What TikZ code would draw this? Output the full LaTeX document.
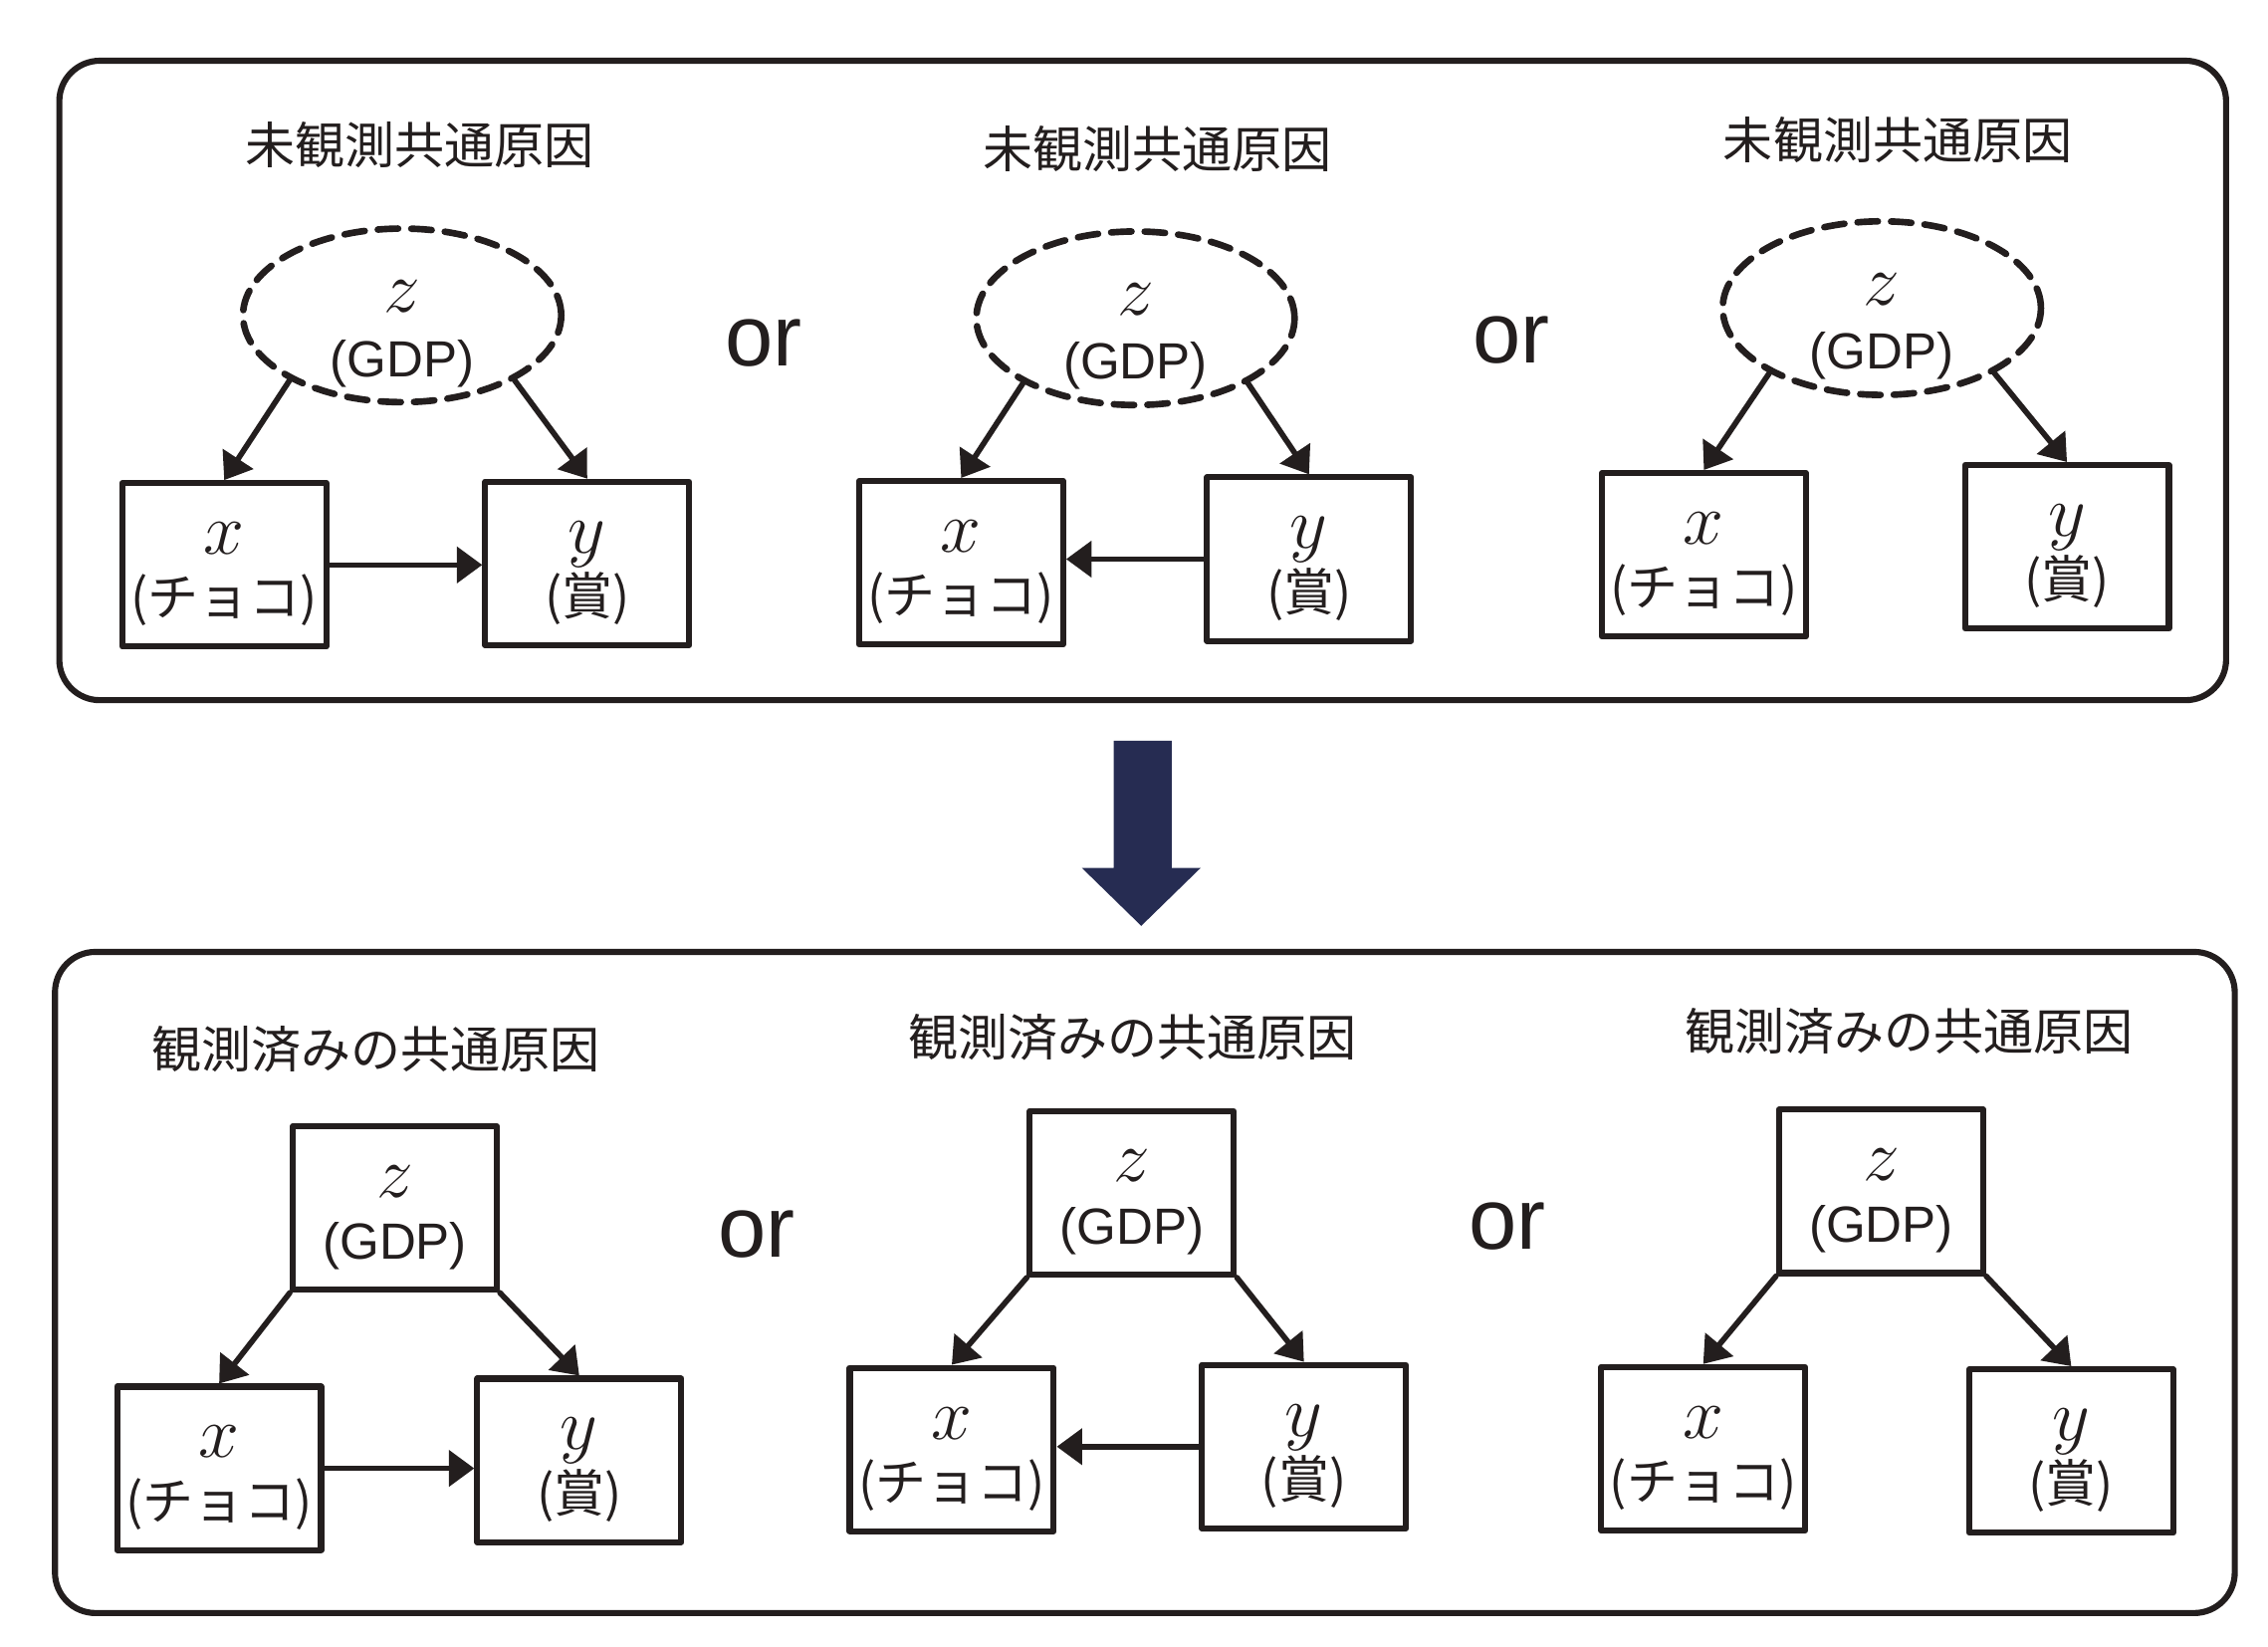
\documentclass[tikz,border=0pt]{standalone}
\usepackage{fontspec}
\setmainfont{Liberation Sans}
\newfontfamily\jp{Noto Sans CJK JP}
\usetikzlibrary{arrows.meta,positioning,shapes.geometric}
\definecolor{ink}{RGB}{35,30,30}
\definecolor{navy}{RGB}{38,44,82}
\newcommand{\varname}[1]{\rule{0pt}{10pt}{\fontsize{14}{12.2}\selectfont$#1$}}
\newcommand{\latname}[1]{\rule{0pt}{13.5pt}{\fontsize{14}{12.6}\selectfont$#1$}}
\newcommand{\choco}{{\jp\fontsize{10}{12.2}\selectfont(チョコ)}}
\newcommand{\prize}{{\jp\fontsize{10}{12.2}\selectfont(賞)}}
\tikzset{
  varbox/.style={rectangle,draw=ink,line width=1.2pt,minimum width=1.41cm,minimum height=1.13cm,
    align=center,inner sep=0pt,text=ink,font=\fontsize{10}{12.2}\selectfont},
  latent/.style={ellipse,draw=ink,line width=1.3pt,dash pattern=on 4pt off 2.6pt,minimum width=2.2cm,
    minimum height=1.2cm,align=center,inner xsep=0pt,inner ysep=-3pt,text=ink,
    font=\fontsize{10}{12.6}\selectfont},
  arr/.style={draw=ink,line width=1.1pt,-{Triangle[length=5pt,width=7pt]}},
  caption/.style={text=ink,font=\jp\fontsize{9.8}{12}\selectfont},
  ortext/.style={text=ink,font=\fontsize{17}{20}\selectfont},
  frame/.style={draw=ink,line width=1.2pt,rounded corners=0.28cm},
  every picture/.style={line cap=round,line join=round}
}
\begin{document}
\begin{tikzpicture}
  \useasboundingbox (0,0) rectangle (15.68,-11.38);
  \draw[frame] (0.41,-0.42) rectangle (15.39,-4.84);
  \draw[frame] (0.38,-6.58) rectangle (15.45,-11.15);
  % top row
  \node[caption] (t1) at (2.90,-1.00) {未観測共通原因};
  \node[caption] (t2) at (8.00,-1.03) {未観測共通原因};
  \node[caption] (t3) at (13.12,-0.97) {未観測共通原因};
  \node[latent] (z1) at (2.78,-2.18) {\latname{z}\\(GDP)};
  \node[latent] (z2) at (7.85,-2.20) {\latname{z}\\(GDP)};
  \node[latent] (z3) at (13.01,-2.13) {\latname{z}\\(GDP)};
  \node[varbox] (x1) at (1.55,-3.905) {\varname{x}\\\choco};
  \node[varbox] (y1) at (4.06,-3.895) {\varname{y}\\\prize};
  \node[varbox] (x2) at (6.645,-3.89) {\varname{x}\\\choco};
  \node[varbox] (y2) at (9.05,-3.865) {\varname{y}\\\prize};
  \node[varbox] (x3) at (11.78,-3.835) {\varname{x}\\\choco};
  \node[varbox] (y3) at (14.29,-3.78) {\varname{y}\\\prize};
  \node[ortext] (o1) at (5.28,-2.37) {or};
  \node[ortext] (o2) at (10.45,-2.35) {or};
  \draw[arr] (z1.-150) -- (x1.north);
  \draw[arr] (z1.-30) -- (y1.north);
  \draw[arr] (x1.east) -- (x1.east -| y1.west);
  \draw[arr] (z2.-150) -- (x2.north);
  \draw[arr] (z2.-30) -- (y2.north);
  \draw[arr] (y2.west) -- (y2.west -| x2.east);
  \draw[arr] (z3.-150) -- (x3.north);
  \draw[arr] (z3.-30) -- (y3.north);
  % big arrow
  \fill[navy] (7.70,-5.12) -- (8.10,-5.12) -- (8.10,-6.00) -- (8.30,-6.00) -- (7.89,-6.40)
    -- (7.48,-6.00) -- (7.70,-6.00) -- cycle;
  % bottom row
  \node[caption] (b1) at (2.60,-7.25) {観測済みの共通原因};
  \node[caption] (b2) at (7.83,-7.17) {観測済みの共通原因};
  \node[caption] (b3) at (13.20,-7.13) {観測済みの共通原因};
  \node[varbox] (z4) at (2.73,-8.35) {\varname{z}\\(GDP)};
  \node[varbox] (z5) at (7.825,-8.245) {\varname{z}\\(GDP)};
  \node[varbox] (z6) at (13.005,-8.235) {\varname{z}\\(GDP)};
  \node[varbox] (x4) at (1.515,-10.15) {\varname{x}\\\choco};
  \node[varbox] (y4) at (4.005,-10.095) {\varname{y}\\\prize};
  \node[varbox] (x5) at (6.58,-10.02) {\varname{x}\\\choco};
  \node[varbox] (y5) at (9.015,-10.00) {\varname{y}\\\prize};
  \node[varbox] (x6) at (11.775,-10.015) {\varname{x}\\\choco};
  \node[varbox] (y6) at (14.32,-10.03) {\varname{y}\\\prize};
  \node[ortext] (o3) at (5.23,-8.53) {or};
  \node[ortext] (o4) at (10.42,-8.48) {or};
  \draw[arr] (z4.south west) -- (x4.north);
  \draw[arr] (z4.south east) -- (y4.north);
  \draw[arr] (x4.east) -- (x4.east -| y4.west);
  \draw[arr] (z5.south west) -- (x5.north);
  \draw[arr] (z5.south east) -- (y5.north);
  \draw[arr] (y5.west) -- (y5.west -| x5.east);
  \draw[arr] (z6.south west) -- (x6.north);
  \draw[arr] (z6.south east) -- (y6.north);
\end{tikzpicture}
\end{document}
